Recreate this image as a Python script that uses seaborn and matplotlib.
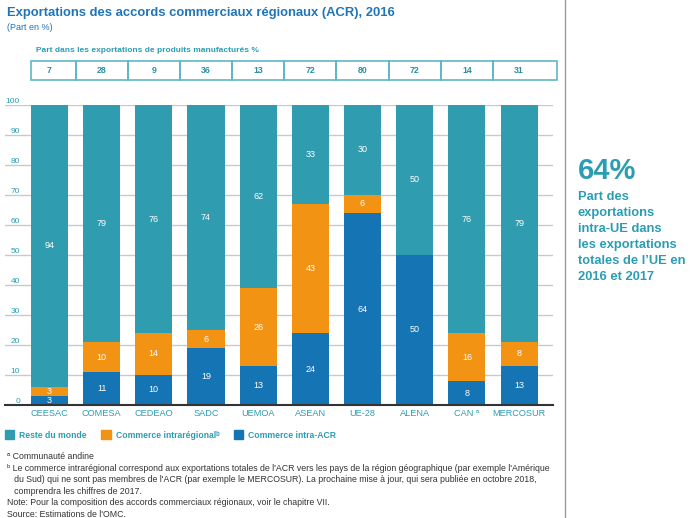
import matplotlib
matplotlib.use("Agg")
import matplotlib.pyplot as plt
from matplotlib.patches import Patch, Rectangle
from matplotlib.lines import Line2D
import numpy as np
import seaborn as sns

# data
categories = ["CEESAC", "COMESA", "CEDEAO", "SADC", "UEMOA", "ASEAN", "UE-28", "ALENA", "CAN \u1d43", "MERCOSUR"]
intra_acr = [3, 11, 10, 19, 13, 24, 64, 50, 8, 13]
intra_reg = [3, 10, 14, 6, 26, 43, 6, 0, 16, 8]
reste = [94, 79, 76, 74, 62, 33, 30, 50, 76, 79]
total = [100] * 10  # shares add up to 100 % (labels are rounded)
manuf = [7, 28, 9, 36, 13, 72, 80, 72, 14, 31]
yticks = list(range(0, 101, 10))

TEAL = "#2f9caf"
ORANGE = "#f39314"
BLUE = "#1474b4"
TXT_TEAL = "#2b9db3"
TITLE_BLUE = "#1f75b9"

sns.set_style("white")
plt.rcParams["font.family"] = ["Liberation Sans", "DejaVu Sans"]

W, H = 698, 518
fig = plt.figure(figsize=(W / 100, H / 100), dpi=100)

ax = fig.add_axes([5 / W, 1 - 405 / H, 548 / W, 300 / H])

lower = np.array(intra_acr)
mid = lower + np.array(intra_reg)

# stacked bars drawn as overlapping cumulative totals
sns.barplot(x=categories, y=total, color=TEAL, width=0.71, saturation=1, linewidth=0, ax=ax)
sns.barplot(x=categories, y=mid, color=ORANGE, width=0.71, saturation=1, linewidth=0, ax=ax)
sns.barplot(x=categories, y=lower, color=BLUE, width=0.71, saturation=1, linewidth=0, ax=ax)

for i in range(len(categories)):
    segs = [(0, intra_acr[i], intra_acr[i]),
            (lower[i], intra_reg[i], intra_reg[i]),
            (mid[i], total[i] - mid[i], reste[i])]
    for b, h, v in segs:
        if v > 0:
            ax.text(i, b + h / 2, str(v), ha="center", va="center",
                    color="white", fontsize=6.5)

ax.set_xlim(-0.852, 9.65)
ax.set_ylim(0, 100)
ax.set_yticks(yticks)
ax.tick_params(axis="y", length=0, pad=-10.8, labelsize=6, labelcolor=TXT_TEAL)
for lab in ax.get_yticklabels():
    lab.set_va("bottom")
ax.yaxis.grid(True, color="#c9c9c9", lw=1)
ax.set_axisbelow(True)
ax.tick_params(axis="x", length=0, pad=3, labelsize=6.6, labelcolor=TXT_TEAL)
ax.set_xticks(np.arange(len(categories)) + 0.5, minor=True)
ax.tick_params(axis="x", which="minor", direction="in", length=5, width=1.3, color="#333333")
ax.set_xticks(np.arange(len(categories)), minor=False)
ax.set_xlabel("")
ax.set_ylabel("")
for s in ["left", "right", "top"]:
    ax.spines[s].set_visible(False)
ax.spines["bottom"].set_color("#333333")
ax.spines["bottom"].set_linewidth(1.5)

# table of manufactured goods share
tax = fig.add_axes([5 / W, 1 - 80 / H, 548 / W, 19 / H])
tax.set_xlim(ax.get_xlim())
tax.set_ylim(0, 1)
tax.axis("off")
n = len(categories)
for i, v in enumerate(manuf):
    left = i - 0.5 if i > 0 else -0.35
    right = i + 0.5 if i < n - 1 else 9.72
    tax.add_patch(Rectangle((left, 0), right - left, 1, fill=False,
                            edgecolor="#5db7c6", lw=1.2, clip_on=False))
    tax.text(i, 0.5, str(v), ha="center", va="center", fontsize=6.3,
             fontweight="bold", color="#2a8ea3")

fig.text(36 / W, 1 - 51 / H, "Part dans les exportations de produits manufacturés %",
         fontsize=6, fontweight="bold", color=TXT_TEAL, va="center")

fig.text(7 / W, 1 - 13 / H, "Exportations des accords commerciaux régionaux (ACR), 2016",
         fontsize=9.4, fontweight="bold", color=TITLE_BLUE, va="center")
fig.text(7 / W, 1 - 27 / H, "(Part en %)", fontsize=6.5, color=TITLE_BLUE, va="center")

handles = [Patch(color=TEAL), Patch(color=ORANGE), Patch(color=BLUE)]
labels = ["Reste du monde", "Commerce intrarégional\u1d47", "Commerce intra-ACR"]
leg = fig.legend(handles, labels, loc="center left", bbox_to_anchor=(-0.004, 1 - 435 / H),
                 ncol=3, frameon=False, handlelength=1.1, handleheight=1.1,
                 handletextpad=0.55, columnspacing=1.7,
                 prop={"size": 6.2, "weight": "bold"}, labelcolor=TXT_TEAL)

notes = ("\u1d43 Communauté andine\n"
         "\u1d47 Le commerce intrarégional correspond aux exportations totales de l'ACR vers les pays de la région géographique (par exemple l'Amérique\n"
         "   du Sud) qui ne sont pas membres de l'ACR (par exemple le MERCOSUR). La prochaine mise à jour, qui sera publiée en octobre 2018,\n"
         "   comprendra les chiffres de 2017.\n"
         "Note: Pour la composition des accords commerciaux régionaux, voir le chapitre VII.\n"
         "Source: Estimations de l'OMC.")
fig.text(7 / W, 1 - 452 / H, notes, fontsize=6.3, color="#333333", va="top", linespacing=1.36)

# right side panel
fig.add_artist(Line2D([565 / W, 565 / W], [0, 1], color="#9a9a9a", lw=1))
fig.text(578 / W, 1 - 171 / H, "64%", fontsize=21, fontweight="bold", color=TXT_TEAL, va="center")
fig.text(578 / W, 1 - 191 / H,
         "Part des\nexportations\nintra-UE dans\nles exportations\ntotales de l\u2019UE en\n2016 et 2017",
         fontsize=9.3, fontweight="bold", color=TXT_TEAL, va="top", linespacing=1.45)

fig.savefig("out.png", dpi=100)
